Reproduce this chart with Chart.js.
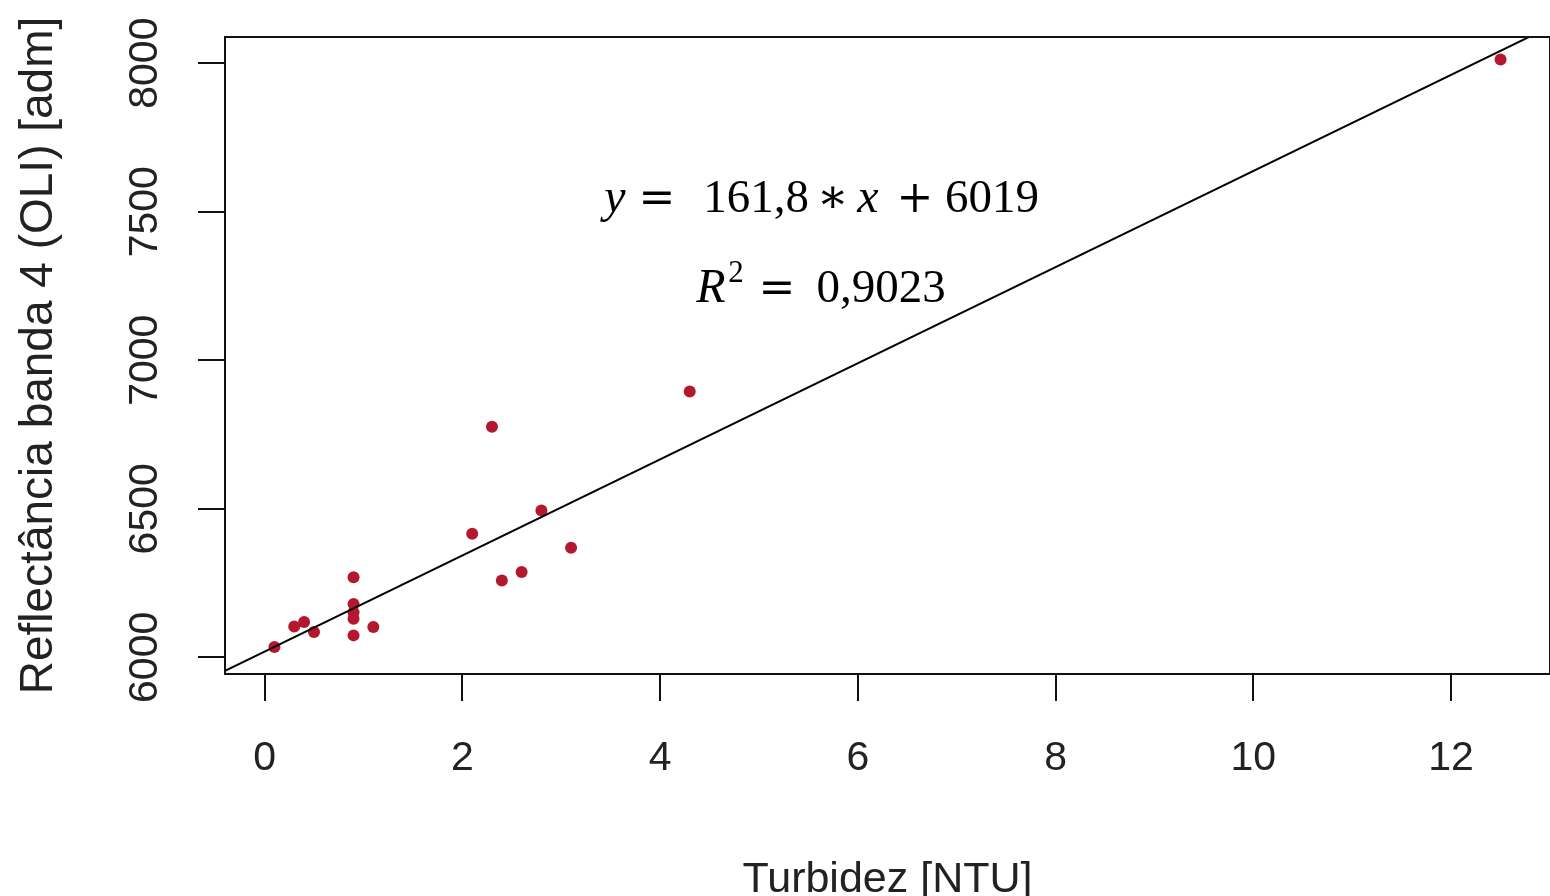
<!DOCTYPE html>
<html>
<head>
<meta charset="utf-8">
<script src="https://cdn.jsdelivr.net/npm/chart.js@4.4.0/dist/chart.umd.min.js"></script>
<style>
  html, body { margin: 0; padding: 0; background: #ffffff; overflow: hidden; width: 1550px; height: 896px; }
  #wrap { position: absolute; left: 0; top: 0; width: 1556px; height: 896px; }
</style>
</head>
<body>
<div id="wrap"><canvas id="c" width="1556" height="896"></canvas></div>
<script>
// ---- data ----
const turbidez = [0.1, 0.3, 0.4, 0.5, 0.9, 0.9, 0.9, 0.9, 0.9, 1.1, 2.1, 2.3, 2.4, 2.6, 2.8, 3.1, 4.3, 12.5];
const reflectancia = [6035, 6104, 6119, 6085, 6270, 6180, 6152, 6130, 6074, 6102, 6416, 6776, 6259, 6287, 6494, 6369, 6895, 8012];
const xTicks = [0, 2, 4, 6, 8, 10, 12];
const yTicks = [6000, 6500, 7000, 7500, 8000];
const fitSlope = 161.8;
const fitIntercept = 6019;
const fitX = [-0.4, 13.0];
const xTitle = 'Turbidez [NTU]';
const yTitle = 'Reflectância banda 4 (OLI) [adm]';

const points = turbidez.map((x, i) => ({ x: x, y: reflectancia[i] }));
const fitLine = fitX.map(x => ({ x: x, y: fitSlope * x + fitIntercept }));

const sans = "'Liberation Sans', Arial, sans-serif";
const serif = "'Liberation Serif', 'DejaVu Serif', serif";
const opSerif = "'DejaVu Serif', 'Liberation Serif', serif";

const framePlugin = {
  id: 'frame',
  afterDatasetsDraw(chart) {
    const { ctx, chartArea: a } = chart;
    ctx.save();
    ctx.strokeStyle = '#111';
    ctx.lineWidth = 2;
    ctx.strokeRect(a.left, a.top, a.right - a.left, a.bottom - a.top);
    ctx.restore();
  },
  afterDraw(chart) {
    const ctx = chart.ctx;
    ctx.save();
    ctx.fillStyle = '#000';
    ctx.textBaseline = 'alphabetic';
    ctx.textAlign = 'center';
    const it = "italic 48px " + serif;
    const rm = "47px " + serif;
    const op = "44px " + opSerif;
    const sup = "31px " + serif;
    // equation pieces: [text, font, centre x, baseline y]
    const pieces = [
      ['y', it, 615, 212],
      ['=', op, 657, 212],
      ['161,8', rm, 756, 212],
      ['\u2217', rm, 833, 212],
      ['x', it, 868, 212],
      ['+', op, 915, 212],
      ['6019', rm, 992, 212],
      ['R', it, 711, 302],
      ['2', sup, 736, 282],
      ['=', op, 777, 302],
      ['0,9023', rm, 881, 302]
    ];
    pieces.forEach(p => { ctx.font = p[1]; ctx.fillText(p[0], p[2], p[3]); });
    ctx.restore();
  }
};

new Chart(document.getElementById('c'), {
  type: 'scatter',
  data: {
    datasets: [
      {
        type: 'line',
        data: fitLine,
        borderColor: '#000',
        borderWidth: 2,
        pointRadius: 0,
        fill: false,
        tension: 0
      },
      {
        data: points,
        backgroundColor: '#b3182f',
        borderWidth: 0,
        pointRadius: 6,
        pointHoverRadius: 6
      }
    ]
  },
  options: {
    responsive: false,
    animation: false,
    events: [],
    layout: { padding: { top: 37, right: 1, left: 0, bottom: 0 } },
    plugins: { legend: { display: false }, tooltip: { enabled: false } },
    scales: {
      x: {
        type: 'linear',
        min: -0.4,
        max: 13.0,
        afterBuildTicks: s => { s.ticks = xTicks.map(v => ({ value: v })); },
        afterFit: s => { s.height = 222; },
        grid: { drawOnChartArea: false, drawTicks: true, tickLength: 27, color: '#111', lineWidth: 2 },
        border: { display: false },
        ticks: { color: '#222', font: { family: sans, size: 41 }, padding: 33, maxRotation: 0, minRotation: 0,
                 callback: v => String(v) },
        title: { display: true, text: xTitle, color: '#222', font: { family: sans, size: 43, lineHeight: 0.75 }, padding: 0 }
      },
      y: {
        type: 'linear',
        min: 5944,
        max: 8088,
        afterBuildTicks: s => { s.ticks = yTicks.map(v => ({ value: v })); },
        afterFit: s => { s.width = 225; },
        grid: { drawOnChartArea: false, drawTicks: true, tickLength: 27, color: '#111', lineWidth: 2 },
        border: { display: false },
        ticks: { color: '#222', font: { family: sans, size: 41 }, padding: 7, minRotation: 90, maxRotation: 90, crossAlign: 'center',
                 callback: v => String(v) },
        title: { display: true, text: yTitle, color: '#222', font: { family: sans, size: 46 }, padding: { top: 12, bottom: 0 } }
      }
    }
  },
  plugins: [framePlugin]
});
</script>
</body>
</html>
